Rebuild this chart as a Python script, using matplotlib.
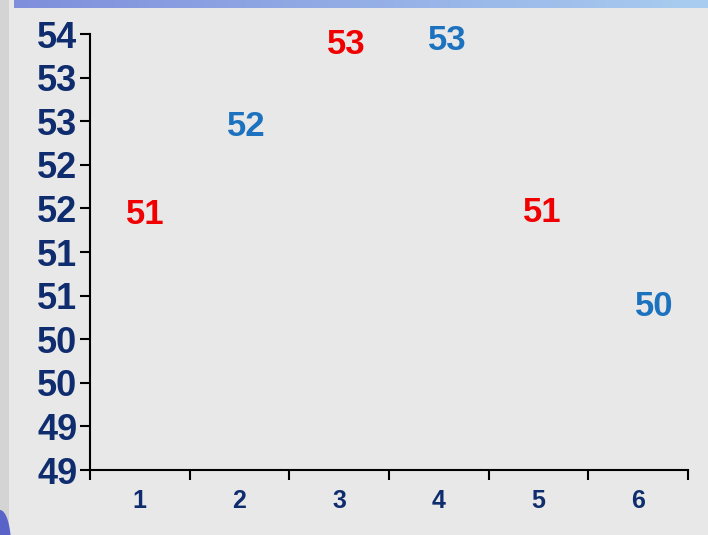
import numpy as np
import matplotlib
matplotlib.use('Agg')
import matplotlib.pyplot as plt
from matplotlib.patches import Rectangle, Ellipse

# data
categories = [1, 2, 3, 4, 5, 6]
y_ticks = [49, 49.5, 50, 50.5, 51, 51.5, 52, 52.5, 53, 53.5, 54]
y_tick_labels = ['49', '49', '50', '50', '51', '51', '52', '52', '53', '53', '54']

red_x = [1.05, 3.07, 5.04]
red_vals = [51.93, 53.88, 51.95]
red_labels = ['51', '53', '51']

blue_x = [2.07, 4.08, 6.16]
blue_vals = [52.94, 53.93, 50.88]
blue_labels = ['52', '53', '50']

bg = '#e8e8e8'
navy = '#0f2d6e'
red = '#f00000'
blue = '#1d72bf'

plt.rcParams['font.family'] = ['Liberation Sans', 'DejaVu Sans']

fig = plt.figure(figsize=(7.08, 5.35), dpi=100)
fig.patch.set_facecolor(bg)

# slide decorations: top gradient bar, left strip, corner shape
deco = fig.add_axes([0, 0, 1, 1], zorder=0)
deco.axis('off')
grad = np.linspace(0, 1, 256).reshape(1, -1)
deco.imshow(grad, extent=[14, 708, 8, 0], aspect='auto',
            cmap=matplotlib.colors.LinearSegmentedColormap.from_list('g', ['#7f8fdc', '#a9cdf0']))
deco.add_patch(Rectangle((0, 0), 9, 535, color='#d4d4d4', lw=0))
deco.add_patch(Ellipse((0, 545), 22, 70, color='#5a64c8', lw=0))
deco.set_xlim(0, 708)
deco.set_ylim(535, 0)

ax = fig.add_axes([90 / 708, 1 - 470 / 535, 598 / 708, 436 / 535], zorder=1)
ax.set_facecolor('none')
ax.set_xlim(0.5, 6.5)
ax.set_ylim(49, 54)

for s in ['top', 'right']:
    ax.spines[s].set_visible(False)
for s in ['left', 'bottom']:
    ax.spines[s].set_linewidth(1.5)
    ax.spines[s].set_color('black')

ax.set_yticks(y_ticks)
ax.set_yticklabels(y_tick_labels, fontsize=26, fontweight='bold', color=navy)
ax.tick_params(axis='y', direction='out', length=7, width=1.5, pad=2)

ax.set_xticks(categories)
ax.set_xticklabels([str(c) for c in categories], fontsize=18, fontweight='bold', color=navy)
ax.set_xticks(np.arange(0.5, 7, 1), minor=True)
ax.tick_params(axis='x', which='major', length=0, pad=14)
ax.tick_params(axis='x', which='minor', direction='out', length=7, width=1.5)

for x, v, lab in zip(red_x, red_vals, red_labels):
    ax.text(x, v, lab, color=red, fontsize=25, fontweight='bold', ha='center', va='center')
for x, v, lab in zip(blue_x, blue_vals, blue_labels):
    ax.text(x, v, lab, color=blue, fontsize=25, fontweight='bold', ha='center', va='center')

fig.savefig('out.png', dpi=100, facecolor=fig.get_facecolor())
